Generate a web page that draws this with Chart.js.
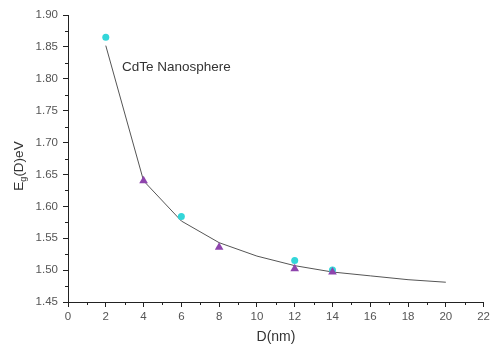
<!DOCTYPE html>
<html>
<head>
<meta charset="utf-8">
<script src="https://cdn.jsdelivr.net/npm/chart.js@4"></script>
<style>
  html, body { margin: 0; padding: 0; background: #fff; }
  #wrap { width: 493px; height: 347px; }
</style>
</head>
<body>
<div id="wrap"><canvas id="chart"></canvas></div>
<script>
// fitted curve
const fitD = [2, 4, 6, 8, 10, 12, 14, 16, 18, 20];
const fitE = [1.852, 1.640, 1.577, 1.543, 1.522, 1.507, 1.497, 1.491, 1.485, 1.481];

// circles
const circleD = [2, 6, 12, 14];
const circleE = [1.865, 1.584, 1.515, 1.500];

// triangles
const triD = [4, 8, 12, 14];
const triE = [1.640, 1.536, 1.502, 1.497];

const xTicks = [0, 2, 4, 6, 8, 10, 12, 14, 16, 18, 20, 22];
const yTicks = [1.45, 1.50, 1.55, 1.60, 1.65, 1.70, 1.75, 1.80, 1.85, 1.90];

const FONT = '"Liberation Sans", Arial, sans-serif';

function toPoints(xs, ys) {
    return xs.map((x, i) => ({ x: x, y: ys[i] }));
}

const extras = {
    id: 'extras',
    afterDraw(chart) {
        const ctx = chart.ctx;
        const xs = chart.scales.x;
        const ys = chart.scales.y;
        const area = chart.chartArea;
        ctx.save();

        // minor ticks
        ctx.strokeStyle = '#222';
        ctx.lineWidth = 1;
        ctx.beginPath();
        for (let i = 0; i < xTicks.length - 1; i++) {
            const px = Math.round(xs.getPixelForValue((xTicks[i] + xTicks[i + 1]) / 2)) + 0.5;
            ctx.moveTo(px, area.bottom);
            ctx.lineTo(px, area.bottom + 3);
        }
        for (let i = 0; i < yTicks.length - 1; i++) {
            const py = Math.round(ys.getPixelForValue((yTicks[i] + yTicks[i + 1]) / 2)) + 0.5;
            ctx.moveTo(area.left, py);
            ctx.lineTo(area.left - 3, py);
        }
        ctx.stroke();

        // label inside plot
        ctx.fillStyle = '#333';
        ctx.font = '13.5px ' + FONT;
        ctx.textBaseline = 'middle';
        ctx.textAlign = 'left';
        ctx.fillText('CdTe Nanosphere', 122, 67);

        // x title
        ctx.font = '14px ' + FONT;
        ctx.textAlign = 'center';
        ctx.fillText('D(nm)', 276, 337);

        // y title with subscript
        ctx.translate(19, 166);
        ctx.rotate(-Math.PI / 2);
        ctx.textAlign = 'left';
        ctx.textBaseline = 'middle';
        ctx.font = '13.5px ' + FONT;
        const wE = ctx.measureText('E').width;
        ctx.font = '9px ' + FONT;
        const wg = ctx.measureText('g').width;
        ctx.font = '13.5px ' + FONT;
        const wRest = ctx.measureText('(D)eV').width;
        let start = -(wE + wg + wRest) / 2;
        ctx.fillText('E', start, 0);
        ctx.font = '9px ' + FONT;
        ctx.fillText('g', start + wE, 5);
        ctx.font = '13.5px ' + FONT;
        ctx.fillText('(D)eV', start + wE + wg, 0);
        ctx.restore();
    }
};

new Chart(document.getElementById('chart'), {
    type: 'scatter',
    data: {
        datasets: [
            {
                label: 'fit',
                data: toPoints(fitD, fitE),
                showLine: true,
                borderColor: '#555',
                borderWidth: 1,
                pointRadius: 0,
                tension: 0,
                order: 3
            },
            {
                label: 'circles',
                data: toPoints(circleD, circleE),
                pointStyle: 'circle',
                pointRadius: 3.5,
                backgroundColor: '#33d6d9',
                borderColor: '#33d6d9',
                borderWidth: 0,
                order: 2
            },
            {
                label: 'triangles',
                data: toPoints(triD, triE),
                pointStyle: 'triangle',
                pointRadius: 5,
                backgroundColor: '#8e44ad',
                borderColor: '#8e44ad',
                borderWidth: 0,
                order: 1
            }
        ]
    },
    options: {
        responsive: true,
        maintainAspectRatio: false,
        animation: false,
        layout: { padding: { top: 15, right: 6, bottom: 0, left: 0 } },
        plugins: {
            legend: { display: false },
            tooltip: { enabled: false }
        },
        scales: {
            x: {
                type: 'linear',
                min: 0,
                max: 22,
                afterBuildTicks: (scale) => { scale.ticks = xTicks.map(v => ({ value: v })); },
                afterFit: (scale) => { scale.height = 45; },
                grid: {
                    drawOnChartArea: false,
                    drawTicks: true,
                    tickLength: 5,
                    color: '#222'
                },
                border: { color: '#222', width: 1 },
                ticks: {
                    color: '#555',
                    font: { family: FONT, size: 11.5 },
                    padding: 3,
                    maxRotation: 0,
                    callback: v => String(v)
                }
            },
            y: {
                type: 'linear',
                min: 1.45,
                max: 1.90,
                afterBuildTicks: (scale) => { scale.ticks = yTicks.map(v => ({ value: v })); },
                afterFit: (scale) => { scale.width = 68; },
                grid: {
                    drawOnChartArea: false,
                    drawTicks: true,
                    tickLength: 5,
                    color: '#222'
                },
                border: { color: '#222', width: 1 },
                ticks: {
                    color: '#555',
                    font: { family: FONT, size: 11.5 },
                    padding: 5,
                    callback: v => v.toFixed(2)
                }
            }
        }
    },
    plugins: [extras]
});
</script>
</body>
</html>
